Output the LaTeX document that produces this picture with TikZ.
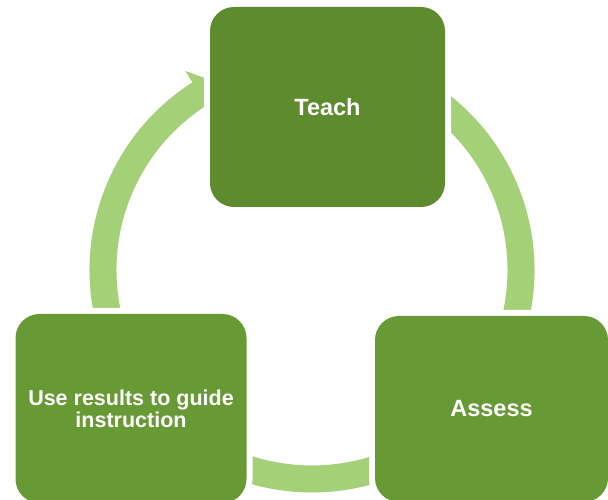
\documentclass[tikz,border=0pt]{standalone}
\usepackage{fontspec}
\setmainfont{Liberation Sans}
\usetikzlibrary{backgrounds}

\definecolor{teachgreen}{RGB}{95,139,47}
\definecolor{stagegreen}{RGB}{103,153,52}
\definecolor{ringgreen}{RGB}{164,208,120}

\begin{document}
\begin{tikzpicture}[
    x=1pt, y=1pt,
    stagebox/.style={    % the rounded boxes
        rectangle, rounded corners=24pt,
        fill=#1, text=white, inner sep=0pt,
        font=\fontsize{23.5}{23.5}\selectfont\bfseries,
        align=center,
        preaction={draw=white, line width=12pt}
    },
    ring/.style={draw=ringgreen, line width=27pt},
 ]
    % ~~~ canvas ~~~~~~~~~~~~~~~~~~~~~~~~~~~~~~~~~~~~~~~
    \useasboundingbox (0,0) rectangle (608,500);
    \clip (0,0) rectangle (608,500);
    % ~~~ the three stages ~~~~~~~~~~~~~~~~~~~~~~~~~~~~~~
    \node[stagebox=teachgreen, minimum width=235pt, minimum height=200pt]
        (teach) at (327.5,393) {Teach};
    \node[stagebox=stagegreen, minimum width=233pt, minimum height=186pt]
        (assess) at (491.5,91) {Assess};
    \node[stagebox=stagegreen, minimum width=231pt, minimum height=189pt,
          font=\fontsize{21.5}{22}\selectfont\bfseries]
        (guide) at (131,91.5) {Use results to guide\\instruction};
    % ~~~ the cycle, behind the boxes ~~~~~~~~~~~~~~~~~~~
    \begin{scope}[on background layer]
        \coordinate (hub) at (312,230);
        \foreach \from/\to in {60/-20, -50/-130}
            \draw[ring] ([shift={(hub)}]\from:209pt)
                arc[start angle=\from, end angle=\to, radius=209pt];
        % shaft and head into Teach
        \draw[ring] ([shift={(hub)}]200:209pt)
            arc[start angle=200, end angle=121, radius=209pt];
        \fill[ringgreen] ([shift={(hub)}]122.5:236pt)
                      -- ([shift={(hub)}]116.5:209pt)
                      -- ([shift={(hub)}]122.5:182pt) -- cycle;
    \end{scope}
\end{tikzpicture}
\end{document}
